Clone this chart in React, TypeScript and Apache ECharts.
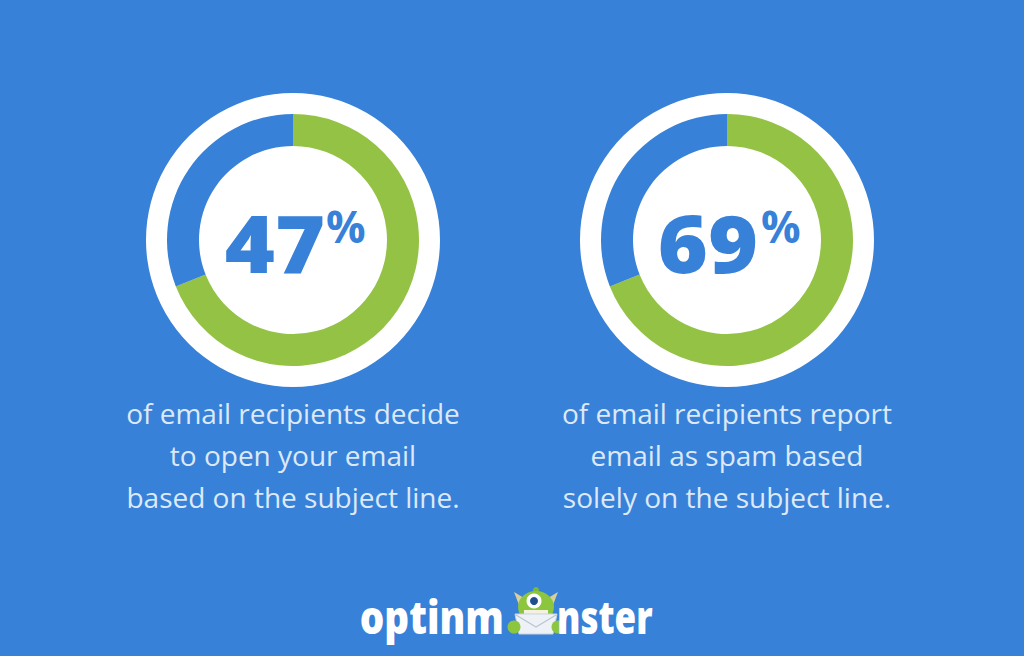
import React, { useEffect, useRef } from "react";
import * as echarts from "echarts";

const numbers = ["47", "69"];
const filledShare = [69, 69];
const remainingShare = [31, 31];
const captionLeft = ["of email recipients decide", "to open your email", "based on the subject line."];
const captionRight = ["of email recipients report", "email as spam based", "solely on the subject line."];
const brandStart = "optinm";
const brandEnd = "nster";

const BLUE = "#3881d8";
const GREEN = "#93c245";
const CAPTION = "#dde9f8";

export default function App() {
  const ref = useRef<HTMLDivElement>(null);
  useEffect(() => {
    if (!ref.current) return;
    const chart = echarts.init(ref.current, null, { renderer: "svg" });
    const centers = [
      [293, 240],
      [727, 240],
    ];
    const series: any[] = [];
    centers.forEach((c, i) => {
      series.push({
        type: "pie",
        center: c,
        radius: [0, 147],
        silent: true,
        z: 1,
        label: { show: false },
        labelLine: { show: false },
        itemStyle: { color: "#ffffff" },
        data: [{ value: 1 }],
      });
      series.push({
        type: "pie",
        center: c,
        radius: [94, 126],
        startAngle: 90,
        clockwise: true,
        silent: true,
        z: 2,
        label: { show: false },
        labelLine: { show: false },
        emphasis: { disabled: true },
        data: [
          { value: filledShare[i], itemStyle: { color: GREEN } },
          { value: remainingShare[i], itemStyle: { color: BLUE } },
        ],
      });
    });

    const numFont = "'Open Sans', 'Lato', sans-serif";
    const graphics: any[] = [];
    const numPos = [
      { cx: 275, px: 326 },
      { cx: 708, px: 761 },
    ];
    numbers.forEach((n, i) => {
      graphics.push({
        type: "text",
        x: numPos[i].cx,
        y: 242,
        scaleX: 1.07,
        z: 10,
        style: {
          text: n,
          fill: BLUE,
          font: `800 80px ${numFont}`,
          textAlign: "center",
          textVerticalAlign: "middle",
        },
      });
      graphics.push({
        type: "text",
        x: numPos[i].px,
        y: 226,
        z: 10,
        style: {
          text: "%",
          fill: BLUE,
          font: `700 44px ${numFont}`,
          textAlign: "left",
          textVerticalAlign: "middle",
        },
      });
    });
    const capFont = "400 28px 'Open Sans', sans-serif";
    [captionLeft, captionRight].forEach((lines, i) => {
      lines.forEach((l, j) => {
        graphics.push({
          type: "text",
          x: centers[i][0],
          y: 413 + j * 42,
          z: 10,
          style: {
            text: l,
            fill: CAPTION,
            font: capFont,
            textAlign: "center",
            textVerticalAlign: "middle",
          },
        });
      });
    });
    const brandFont = "800 46px 'Open Sans', sans-serif";
    graphics.push({
      type: "text",
      x: 504,
      y: 616,
      scaleX: 0.84,
      z: 10,
      style: { text: brandStart, fill: "#ffffff", font: brandFont, textAlign: "right", textVerticalAlign: "middle" },
    });
    graphics.push({
      type: "text",
      x: 557,
      y: 616,
      scaleX: 0.76,
      z: 10,
      style: { text: brandEnd, fill: "#ffffff", font: brandFont, textAlign: "left", textVerticalAlign: "middle" },
    });
    // monster mascot
    graphics.push({
      type: "group",
      z: 10,
      children: [
        { type: "circle", shape: { cx: 536, cy: 590, r: 3 }, style: { fill: "#7fb834" } },
        { type: "polygon", shape: { points: [[519, 605], [514, 592], [524, 598]] }, style: { fill: "#d9cf9a" } },
        { type: "polygon", shape: { points: [[553, 605], [558, 592], [548, 598]] }, style: { fill: "#d9cf9a" } },
        { type: "ellipse", shape: { cx: 536, cy: 607, rx: 18, ry: 16 }, style: { fill: "#8cc63f" } },
        { type: "circle", shape: { cx: 534, cy: 601, r: 7.5 }, style: { fill: "#ffffff" } },
        { type: "circle", shape: { cx: 534, cy: 601, r: 4 }, style: { fill: "#1e4e8c" } },
        { type: "rect", shape: { x: 524, y: 610, width: 24, height: 4 }, style: { fill: "#f4f1de" } },
        { type: "polygon", shape: { points: [[515, 614], [557, 614], [553, 634], [519, 634]] }, style: { fill: "#eef2f6", stroke: "#c9d3dd", lineWidth: 1 } },
        { type: "polyline", shape: { points: [[516, 615], [536, 627], [556, 615]] }, style: { stroke: "#b9c6d3", lineWidth: 1.2, fill: "none" } },
        { type: "circle", shape: { cx: 514, cy: 627, r: 6.5 }, style: { fill: "#8cc63f" } },
        { type: "circle", shape: { cx: 558, cy: 627, r: 6.5 }, style: { fill: "#8cc63f" } },
      ],
    });

    chart.setOption({
      animation: false,
      backgroundColor: BLUE,
      series,
      graphic: graphics,
    });
    return () => chart.dispose();
  }, []);
  return <div ref={ref} style={{ position: "fixed", left: 0, top: 0, width: 1024, height: 656 }} />;
}
